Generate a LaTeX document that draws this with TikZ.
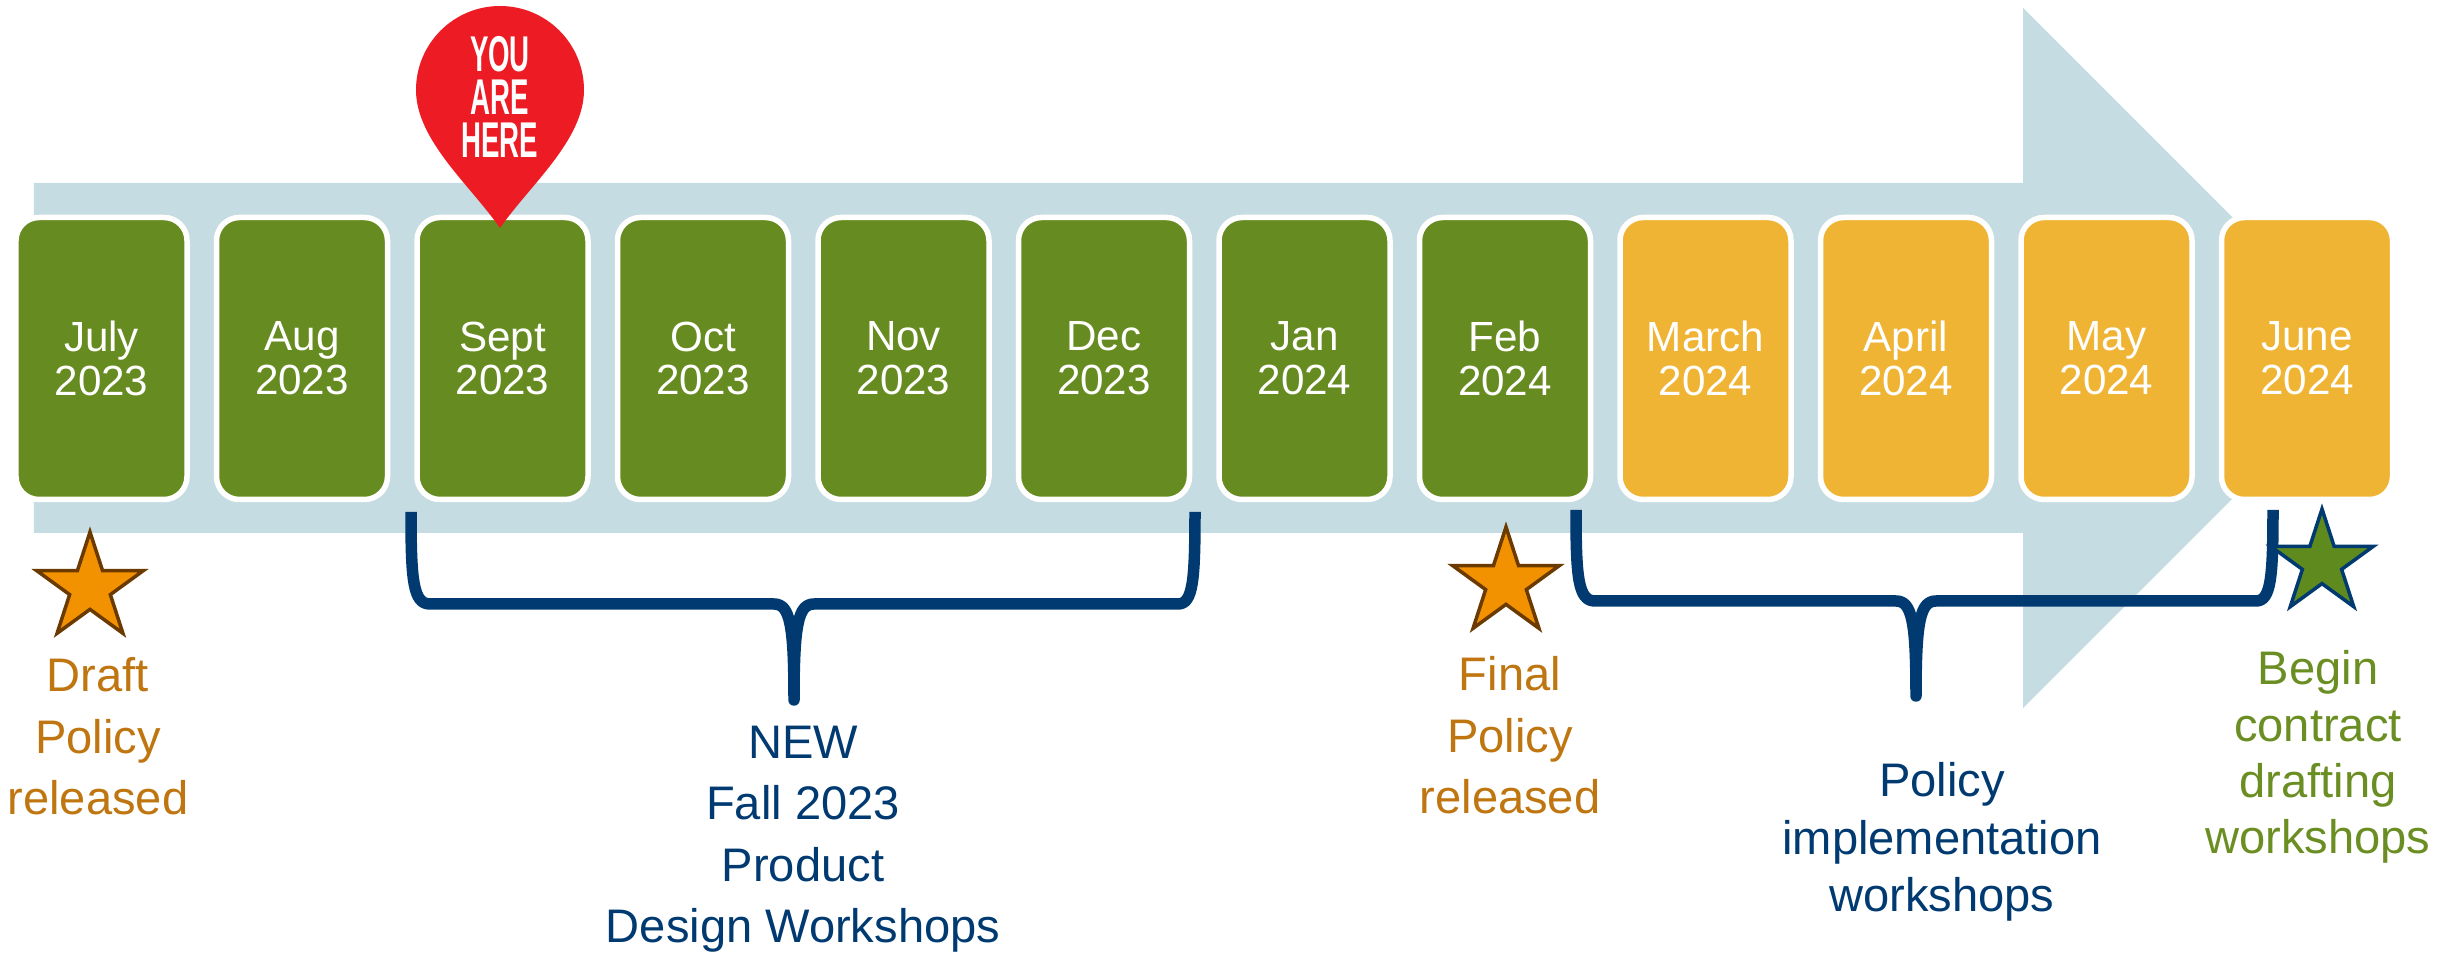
\documentclass[tikz,border=0pt]{standalone}
\usepackage{fontspec}
\setmainfont{Liberation Sans}
\newfontfamily\pinfont[FakeStretch=0.55]{Liberation Sans}
\usetikzlibrary{shapes.geometric}
\definecolor{band}{HTML}{C5DCE3}
\definecolor{leaf}{HTML}{668B20}
\definecolor{gold}{HTML}{F0B435}
\definecolor{pinred}{HTML}{ED1C24}
\definecolor{navy}{HTML}{003A70}
\definecolor{staror}{HTML}{F39200}
\definecolor{starbrown}{HTML}{6B3A00}
\definecolor{rust}{HTML}{BF7610}
\definecolor{textleaf}{HTML}{6B8E23}
\definecolor{starleaf}{HTML}{5E8A1E}
\begin{document}
\begin{tikzpicture}[
    month/.style={rectangle, rounded corners=0.23cm, draw=white, line width=0.055cm,
      minimum width=1.71cm, minimum height=2.82cm, inner sep=0pt, text=white,
      align=center, font=\fontsize{12}{12.5}\selectfont},
    star5/.style={star, star points=5, star point ratio=2.618, inner sep=0pt,
      minimum size=1.12cm, line width=0.035cm},
    note/.style={anchor=north, inner sep=0pt, align=center,
      font=\fontsize{13.4}{17.5}\selectfont},
    brace/.style={navy, line width=0.115cm, line join=round}
  ]
  \useasboundingbox (0,0) rectangle (24.58,9.55);
  \fill[band] (0.34,4.22) -- (0.34,7.72) -- (20.23,7.72) -- (20.23,9.47)
    -- (23.73,5.97) -- (20.23,2.47) -- (20.23,4.22) -- cycle;
  \draw
    (1.015,5.965) node[month, fill=leaf] (jul) {July\\2023}
    (3.020,5.965) node[month, fill=leaf] (aug) {Aug\\2023}
    (5.025,5.965) node[month, fill=leaf] (sep) {Sept\\2023}
    (7.030,5.965) node[month, fill=leaf] (oct) {Oct\\2023}
    (9.035,5.965) node[month, fill=leaf] (nov) {Nov\\2023}
    (11.040,5.965) node[month, fill=leaf] (dec) {Dec\\2023}
    (13.045,5.965) node[month, fill=leaf] (jan) {Jan\\2024}
    (15.050,5.965) node[month, fill=leaf] (feb) {Feb\\2024}
    (17.055,5.965) node[month, fill=gold] (mar) {March\\2024}
    (19.060,5.965) node[month, fill=gold] (apr) {April\\2024}
    (21.065,5.965) node[month, fill=gold] (may) {May\\2024}
    (23.070,5.965) node[month, fill=gold] (jun) {June\\2024};
  \fill[pinred] (5.00,7.27) .. controls (4.70,7.70) and (4.16,8.15) .. (4.16,8.65)
    arc[start angle=180, end angle=0, radius=0.84]
    .. controls (5.84,8.15) and (5.30,7.70) .. cycle;
  \node[anchor=north, inner sep=0pt, align=center, text=white,
    font=\pinfont\bfseries\fontsize{14.3}{12.2}\selectfont] (here) at (5.00,9.19) {YOU\\ARE\\HERE};
  \begin{scope}[brace]
    \draw (4.11,4.43) .. controls (4.11,3.75) and (4.13,3.51) .. (4.30,3.51) -- (7.74,3.51)
      .. controls (7.90,3.51) and (7.94,3.30) .. (7.94,2.55)
      .. controls (7.94,3.30) and (7.98,3.51) .. (8.14,3.51) -- (11.78,3.51)
      .. controls (11.93,3.51) and (11.95,3.75) .. (11.95,4.43);
    \draw (15.76,4.45) .. controls (15.76,3.78) and (15.78,3.54) .. (15.95,3.54) -- (18.96,3.54)
      .. controls (19.12,3.54) and (19.16,3.33) .. (19.16,2.59)
      .. controls (19.16,3.33) and (19.20,3.54) .. (19.36,3.54) -- (22.56,3.54)
      .. controls (22.71,3.54) and (22.73,3.78) .. (22.73,4.45);
  \end{scope}
  \node[star5, draw=starbrown, fill=staror] (draftstar) at (0.90,3.67) {};
  \node[star5, draw=starbrown, fill=staror] (finalstar) at (15.06,3.72) {};
  \node[star5, draw=navy, fill=starleaf, minimum size=1.08cm] (beginstar) at (23.22,3.92) {};
  \node[note, text=rust] (draft) at (0.98,2.98) {Draft\\Policy\\released};
  \node[note, text=rust] (final) at (15.10,2.99) {Final\\Policy\\released};
  \node[note, text=navy] (fall) at (8.03,2.30) {NEW\\Fall 2023\\Product\\Design Workshops};
  \node[note, text=navy, font=\fontsize{13.4}{16.3}\selectfont] (impl) at (19.42,1.93)
    {Policy\\implementation\\workshops};
  \node[note, text=textleaf, font=\fontsize{13.4}{16}\selectfont] (begin) at (23.18,3.05)
    {Begin\\contract\\drafting\\workshops};
\end{tikzpicture}
\end{document}
